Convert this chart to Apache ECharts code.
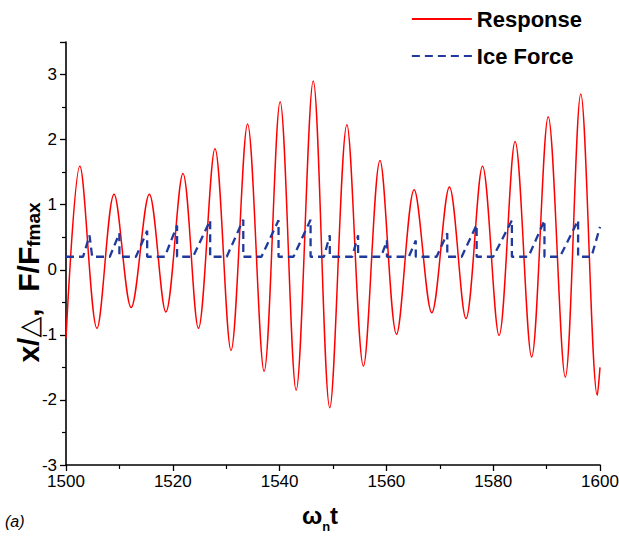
<!DOCTYPE html>
<html>
<head>
<meta charset="utf-8">
<script src="https://cdn.jsdelivr.net/npm/echarts@6/dist/echarts.min.js"></script>
<style>
html,body{margin:0;padding:0;background:#fff;}
#c{width:619px;height:545px;}
</style>
</head>
<body>
<div id="c"></div>
<script>
// Response: peaks and troughs (time, x/Δ)
const respT = [1500, 1502.6, 1505.8, 1509.0, 1512.2, 1515.6, 1518.7, 1521.9, 1524.8, 1527.9, 1530.9, 1534.0, 1537.1, 1540.1, 1543.1, 1546.3, 1549.4, 1552.6, 1555.7, 1558.8, 1561.9, 1565.2, 1568.5, 1571.8, 1574.9, 1578.0, 1581.1, 1584.1, 1587.2, 1590.3, 1593.5, 1596.4, 1599.5, 1600];
const respV = [-1.05, 1.59, -0.90, 1.16, -0.58, 1.16, -0.65, 1.48, -0.90, 1.86, -1.24, 2.24, -1.56, 2.58, -1.85, 2.90, -2.12, 2.23, -1.48, 1.68, -0.99, 1.23, -0.66, 1.27, -0.75, 1.59, -1.01, 1.97, -1.34, 2.35, -1.65, 2.70, -1.93, -1.50];

// Ice force: sawtooth corners (time, F/Ffmax)
const forceT = [1500, 1503.2, 1504.4, 1504.9, 1508.2, 1510.0, 1510.0, 1513.1, 1515.2, 1515.2, 1518.5, 1520.8, 1520.8, 1523.8, 1527.0, 1527.0, 1530.1, 1533.2, 1533.2, 1536.6, 1539.8, 1539.8, 1542.6, 1545.8, 1545.8, 1548.3, 1549.4, 1549.4, 1553.6, 1554.7, 1554.7, 1559.0, 1560.1, 1560.1, 1564.2, 1565.5, 1565.5, 1569.4, 1571.4, 1571.4, 1574.1, 1576.9, 1576.9, 1580.0, 1583.5, 1583.5, 1586.6, 1589.6, 1589.6, 1592.5, 1595.9, 1595.9, 1598.4, 1600];
const forceV = [0.2, 0.2, 0.53, 0.2, 0.2, 0.56, 0.2, 0.2, 0.60, 0.2, 0.2, 0.68, 0.2, 0.2, 0.76, 0.2, 0.2, 0.77, 0.2, 0.2, 0.76, 0.2, 0.2, 0.77, 0.2, 0.2, 0.53, 0.2, 0.2, 0.53, 0.2, 0.2, 0.45, 0.2, 0.2, 0.45, 0.2, 0.2, 0.56, 0.2, 0.2, 0.69, 0.2, 0.2, 0.76, 0.2, 0.2, 0.76, 0.2, 0.2, 0.76, 0.2, 0.2, 0.66];

const seriesNames = ['Response', 'Ice Force'];
const xTicks = {min: 1500, max: 1600, step: 20};
const yTicks = {min: -3, max: 3.5, step: 1};

const FONT = 'Liberation Sans, Arial, Helvetica, sans-serif';
const respData = respT.map((t, i) => [t, respV[i]]);
const forceData = forceT.map((t, i) => [t, forceV[i]]);

const chart = echarts.init(document.getElementById('c'), null, {renderer: 'svg'});
const axisCommon = {
  type: 'value',
  splitLine: {show: false},
  nameMoveOverlap: false,
  axisLine: {show: true, onZero: false, lineStyle: {color: '#000', width: 1.6}},
  axisTick: {show: true, inside: false, length: 6, lineStyle: {color: '#000', width: 1.3}},
  minorTick: {show: true, splitNumber: 2, length: 4, lineStyle: {color: '#000', width: 1.2}},
  axisLabel: {color: '#000', fontSize: 17, fontFamily: FONT, formatter: v => String(v)}
};
chart.setOption({
  backgroundColor: '#fff',
  animation: false,
  textStyle: {fontFamily: FONT},
  grid: {left: 66, right: 19, top: 42, bottom: 80, containLabel: false, outerBoundsMode: 'none'},
  legend: {
    orient: 'vertical', right: 37, top: 8, padding: 0,
    itemWidth: 60, itemHeight: 14, itemGap: 15,
    itemStyle: {opacity: 0},
    lineStyle: {opacity: 1},
    textStyle: {fontSize: 22, fontWeight: 'bold', color: '#000', fontFamily: FONT},
    data: seriesNames
  },
  xAxis: Object.assign({}, axisCommon, {
    min: xTicks.min, max: xTicks.max, interval: xTicks.step,
    axisLabel: Object.assign({}, axisCommon.axisLabel, {margin: 8}),
    name: '{a|ω}{s|n}{a|t}',
    nameLocation: 'middle', nameGap: 36,
    nameTextStyle: {
      padding: [0, 26, 0, 0],
      rich: {
        a: {fontSize: 24, fontWeight: 'bold', color: '#000', fontFamily: FONT, lineHeight: 28},
        s: {fontSize: 13, fontWeight: 'bold', color: '#000', fontFamily: FONT, lineHeight: 28, padding: [22, 0, 0, 0]}
      }
    }
  }),
  yAxis: Object.assign({}, axisCommon, {
    min: yTicks.min, max: yTicks.max, interval: yTicks.step,
    axisLabel: Object.assign({}, axisCommon.axisLabel, {margin: 9, showMaxLabel: false,
      formatter: v => (v > 3.01 ? '' : String(v))}),
    name: '{a|x/}{d|△}{a|,  F/F}{s|fmax}',
    nameLocation: 'middle', nameGap: 21,
    nameTextStyle: {
      padding: [0, 58, 0, 0],
      rich: {
        a: {fontSize: 30, fontWeight: 'bold', color: '#000', fontFamily: FONT, lineHeight: 34},
        d: {fontSize: 27, fontWeight: 'normal', color: '#000', fontFamily: 'DejaVu Sans', lineHeight: 34},
        s: {fontSize: 19, fontWeight: 'bold', color: '#000', fontFamily: FONT, lineHeight: 34, padding: [10, 0, 0, 0]}
      }
    }
  }),
  graphic: [{
    type: 'text', left: 5, top: 513,
    style: {text: '(a)', fontSize: 16, fontStyle: 'italic', fill: '#000', fontFamily: FONT}
  }],
  series: [
    {
      name: seriesNames[0], type: 'line', data: respData,
      smooth: 0.34, symbol: 'none', showSymbol: false,
      lineStyle: {color: '#ff0000', width: 1.5},
      itemStyle: {color: '#ff0000'}
    },
    {
      name: seriesNames[1], type: 'line', data: forceData,
      smooth: false, symbol: 'none', showSymbol: false,
      lineStyle: {color: '#1f3a9c', width: 2.3, type: [8, 5]},
      itemStyle: {color: '#1f3a9c'}
    }
  ]
});
</script>
</body>
</html>
